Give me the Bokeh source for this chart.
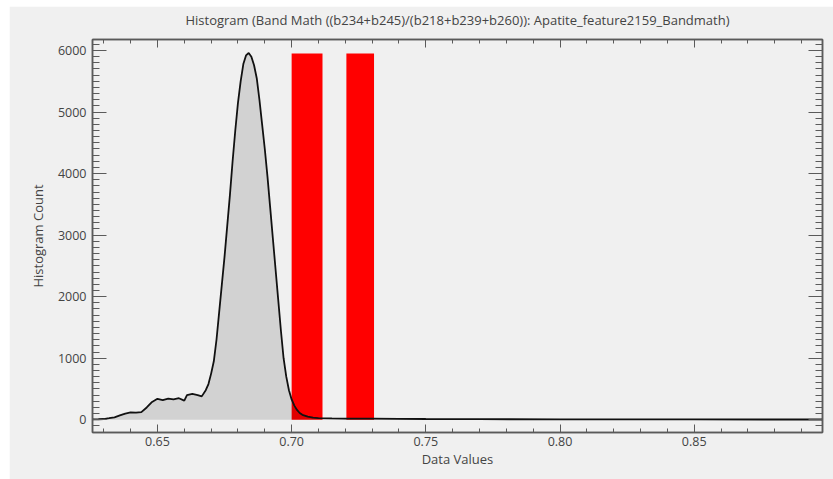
from bokeh.plotting import figure
from bokeh.models import (LinearAxis, Range1d, ColumnDataSource, SingleIntervalTicker,
                          NumeralTickFormatter, CustomJSTickFormatter)
from bokeh.embed import file_html
from bokeh.resources import INLINE

# ---- data ----
hist_x = [0.6258, 0.628, 0.630, 0.632, 0.634, 0.636, 0.638, 0.640, 0.642, 0.644,
          0.646, 0.648, 0.650, 0.652, 0.654, 0.656, 0.658, 0.660, 0.661, 0.663,
          0.665, 0.6665, 0.668, 0.669, 0.670, 0.671, 0.672, 0.673, 0.674, 0.675,
          0.676, 0.677, 0.678, 0.679, 0.680, 0.681, 0.682, 0.683, 0.684, 0.685,
          0.686, 0.687, 0.688, 0.689, 0.690, 0.691, 0.692, 0.693, 0.694, 0.695,
          0.696, 0.697, 0.698, 0.699, 0.700, 0.701, 0.702, 0.703, 0.704, 0.706,
          0.708, 0.710, 0.715, 0.720, 0.730, 0.740, 0.750, 0.770, 0.800, 0.850,
          0.8978]
hist_count = [5, 8, 12, 25, 40, 70, 100, 120, 115, 125,
              200, 290, 340, 320, 345, 330, 350, 310, 400, 420,
              400, 380, 480, 580, 750, 950, 1300, 1750, 2200, 2650,
              3150, 3650, 4200, 4700, 5150, 5500, 5780, 5920, 5960, 5900,
              5760, 5550, 5200, 4800, 4400, 3950, 3450, 2950, 2450, 1950,
              1450, 1000, 700, 480, 330, 230, 160, 110, 80, 50,
              35, 28, 22, 20, 18, 15, 12, 9, 7, 5,
              4]
zero_line = [0] * len(hist_x)

band_left = [0.7000, 0.7204]
band_right = [0.7115, 0.7307]
band_top = [5950, 5950]
band_bottom = [0, 0]

title_text = "Histogram (Band Math ((b234+b245)/(b218+b239+b260)): Apatite_feature2159_Bandmath)"
x_label = "Data Values"
y_label = "Histogram Count"
x_tick_step = 0.05
y_tick_step = 1000

FONT = "Open Sans"
BG = "#f0f0f0"
FRAME = "#5a5a5a"
TXT = "#444444"

p = figure(width=824, height=473, output_backend="svg", toolbar_location=None,
           x_range=Range1d(0.6258, 0.8978), y_range=Range1d(-207, 6179),
           background_fill_color=BG, border_fill_color=BG,
           min_border_left=83, min_border_right=11, min_border_top=33, min_border_bottom=47)
p.margin = (6, 0, 0, 9)
p.grid.visible = False
p.outline_line_color = FRAME
p.outline_line_width = 1.5

src = ColumnDataSource(dict(x=hist_x, y=hist_count, z=zero_line))
bands = ColumnDataSource(dict(left=band_left, right=band_right, top=band_top, bottom=band_bottom))

p.quad(left="left", right="right", top="top", bottom="bottom", source=bands,
       fill_color="#ff0000", line_color=None)
p.varea(x="x", y1="z", y2="y", source=src, fill_color="black", fill_alpha=0.12)
p.line(x="x", y="y", source=src, line_color="#111111", line_width=1.8)

blank = CustomJSTickFormatter(code="return ''")

def style_axis(ax, major_len, minor_len):
    ax.axis_line_color = FRAME
    ax.axis_line_width = 1.5
    ax.major_tick_line_color = FRAME
    ax.minor_tick_line_color = FRAME
    ax.major_tick_in = major_len
    ax.major_tick_out = 0
    ax.minor_tick_in = minor_len
    ax.minor_tick_out = 0
    ax.major_label_text_font = FONT
    ax.major_label_text_font_size = "12.5px"
    ax.major_label_text_color = TXT
    ax.axis_label_text_font = FONT
    ax.axis_label_text_font_size = "13px"
    ax.axis_label_text_font_style = "normal"
    ax.axis_label_text_color = TXT

bx = p.xaxis[0]
style_axis(bx, 8, 4)
bx.ticker = SingleIntervalTicker(interval=x_tick_step, num_minor_ticks=5)
bx.formatter = NumeralTickFormatter(format="0.00")
bx.axis_label = x_label
bx.major_label_standoff = 4
bx.axis_label_standoff = 1

ly = p.yaxis[0]
style_axis(ly, 14, 7)
ly.ticker = SingleIntervalTicker(interval=y_tick_step, num_minor_ticks=10)
ly.axis_label = y_label
ly.major_label_standoff = 6
ly.axis_label_standoff = 8

# top axis carries the chart title as its label
top_ax = LinearAxis(ticker=SingleIntervalTicker(interval=x_tick_step, num_minor_ticks=5),
                    formatter=blank)
style_axis(top_ax, 8, 4)
top_ax.major_label_standoff = 0
top_ax.axis_label = title_text
top_ax.axis_label_standoff = 11
p.add_layout(top_ax, "above")

right_ax = LinearAxis(ticker=SingleIntervalTicker(interval=y_tick_step, num_minor_ticks=10),
                      formatter=blank)
style_axis(right_ax, 14, 7)
right_ax.major_label_standoff = 0
p.add_layout(right_ax, "right")

open("out.html", "w").write(file_html(p, INLINE))
